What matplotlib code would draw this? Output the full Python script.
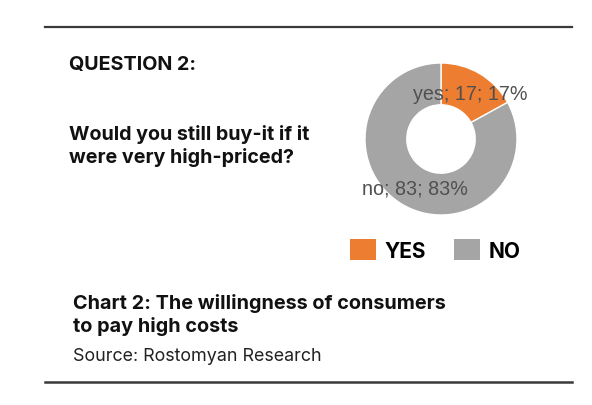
import matplotlib
matplotlib.use("Agg")
import matplotlib.pyplot as plt
from matplotlib.patches import Patch
import numpy as np

# survey answers
answers = ["yes", "no"]
counts = [17, 83]
legend_labels = ["YES", "NO"]
colors = ["#ED7D31", "#A5A5A5"]

W, H = 592, 406
fig = plt.figure(figsize=(W / 100, H / 100), dpi=100)
fig.patch.set_facecolor("white")


def px(x, y):
    return x / W, 1 - y / H


# rules top and bottom
line_ax = fig.add_axes([0, 0, 1, 1])
line_ax.set_xlim(0, W)
line_ax.set_ylim(H, 0)
line_ax.axis("off")
line_ax.plot([45, 572], [27.5, 27.5], color="#3a3a3a", lw=1.6)
line_ax.plot([45, 572], [383, 383], color="#3a3a3a", lw=1.8)

font = "Inter"
fig.text(*px(69, 70), "QUESTION 2:", fontsize=14.2, fontweight="bold",
         family=font, va="baseline", ha="left", color="#111111")
fig.text(*px(69, 140), "Would you still buy-it if it", fontsize=14.2,
         fontweight="bold", family=font, va="baseline", color="#111111")
fig.text(*px(69, 163), "were very high-priced?", fontsize=14.2,
         fontweight="bold", family=font, va="baseline", color="#111111")

fig.text(*px(73, 309), "Chart 2: The willingness of consumers", fontsize=14.3,
         fontweight="bold", family=font, va="baseline", color="#111111")
fig.text(*px(73, 332), "to pay high costs", fontsize=14.3,
         fontweight="bold", family=font, va="baseline", color="#111111")
fig.text(*px(73, 361), "Source: Rostomyan Research", fontsize=12.9,
         family=font, va="baseline", color="#222222")

# donut
cx, cy, r = 441, 140, 76
ax = fig.add_axes([(cx - r) / W, 1 - (cy + r) / H, 2 * r / W, 2 * r / H])
wedges, _ = ax.pie(counts, colors=colors, startangle=90, counterclock=False,
                   radius=1, wedgeprops=dict(width=0.55, edgecolor="white", linewidth=1))
ax.set_xlim(-1, 1)
ax.set_ylim(-1, 1)
ax.set_aspect("equal")
total = sum(counts)
for w, name, c in zip(wedges, answers, counts):
    ang = np.deg2rad((w.theta1 + w.theta2) / 2)
    ax.text(0.72 * np.cos(ang) + 0.02, 0.72 * np.sin(ang) - 0.02,
            f"{name}; {c}; {round(100 * c / total)}%",
            ha="center", va="center", fontsize=14.2, family="Liberation Sans",
            color="#505050")

handles = [Patch(facecolor=c, edgecolor="none") for c in colors]
fig.legend(handles, legend_labels, loc="center", bbox_to_anchor=px(435, 251),
           ncol=2, frameon=False, handlelength=1.25, handleheight=1.15,
           handletextpad=0.4, columnspacing=1.35,
           prop=dict(family=font, weight="bold", size=15))

fig.savefig("out.png", dpi=100, facecolor="white")
